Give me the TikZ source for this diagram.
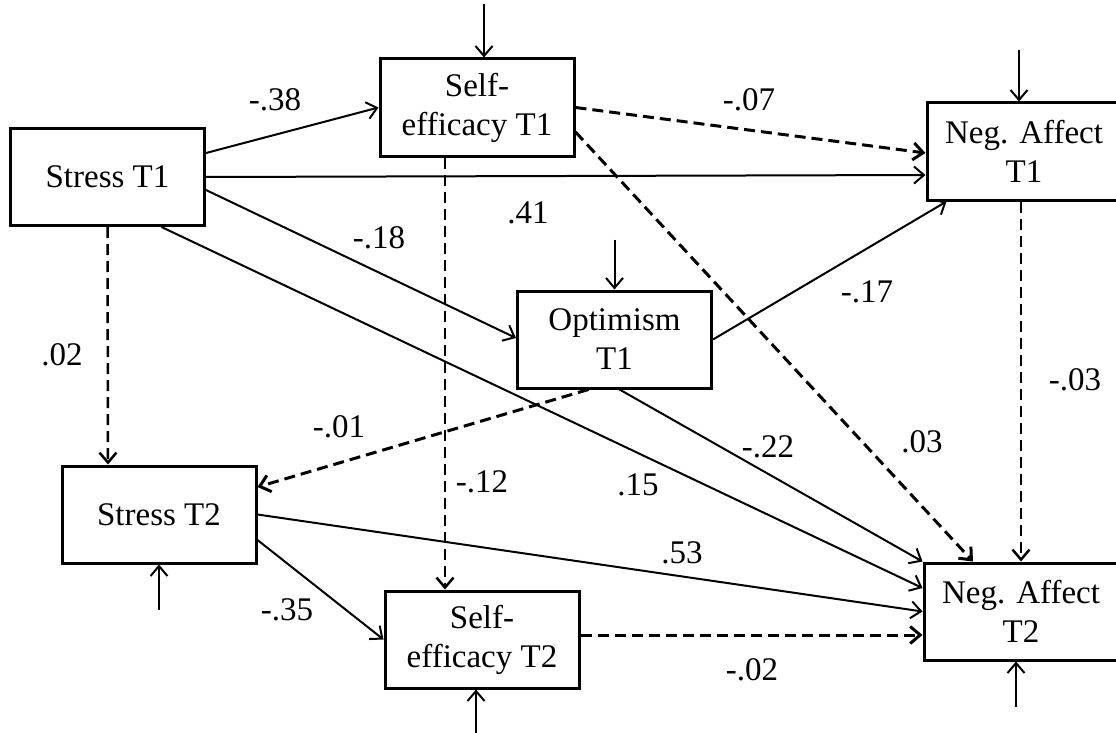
\documentclass[tikz,border=0pt]{standalone}
\usepackage{fontspec}
\setmainfont{Liberation Serif}
\usetikzlibrary{arrows.meta,calc}
\begin{document}
\begin{tikzpicture}[x=1pt,y=-1pt,
  vbox/.style={draw, line width=3pt, minimum width=194pt, minimum height=97pt, inner sep=0pt, align=center, font=\fontsize{33}{39}\selectfont},
  conn/.style={line width=2pt, -{Straight Barb[length=10pt,width=17pt]}},
  dconn/.style={conn, line width=3pt, dash pattern=on 11pt off 6pt},
  vdconn/.style={conn, line width=2.5pt, dash pattern=on 11pt off 6pt},
  lbl/.style={font=\fontsize{33}{39}\selectfont, inner sep=0pt}]
\useasboundingbox (0,0) rectangle (1116,733);
\fill[white] (0,0) rectangle (1116,733);
% nodes
\node[vbox] (s1)  at (107.5,177) {Stress T1};
\node[vbox] (se1) at (477,107.5) {Self-\\efficacy T1};
\node[vbox] (na1) at (1024,151.5) {Neg. Affect\\T1};
\node[vbox] (opt) at (614.5,339.5) {Optimism\\T1};
\node[vbox] (s2)  at (159,514.5) {Stress T2};
\node[vbox] (se2) at (482,639.5) {Self-\\efficacy T2};
\node[vbox] (na2) at (1021,611.5) {Neg. Affect\\T2};
% error terms
\coordinate (e1) at ([xshift=7pt,yshift=53pt]se1.north);
\coordinate (e2) at ([xshift=-5pt,yshift=51pt]na1.north);
\coordinate (e3) at ([yshift=50pt]opt.north);
\coordinate (e4) at ([yshift=-45pt]s2.south);
\coordinate (e5) at ([xshift=-6pt,yshift=-47pt]se2.south);
\coordinate (e6) at ([xshift=-5pt,yshift=-45pt]na2.south);
\draw[conn] (e1) -- ([xshift=7pt]se1.north);
\draw[conn] (e2) -- ([xshift=-5pt]na1.north);
\draw[conn] (e3) -- (opt.north);
\draw[conn] (e4) -- (s2.south);
\draw[conn] (e5) -- ([xshift=-6pt]se2.south);
\draw[conn] (e6) -- ([xshift=-5pt]na2.south);
% solid paths
\draw[conn] ([yshift=24pt]s1.east) -- (se1.west);
\draw[conn] (s1.east) -- ([yshift=-23.5pt]na1.west);
\draw[conn] ([yshift=-13pt]s1.east) -- ([yshift=1.5pt]opt.west);
\draw[conn] ([xshift=54pt]s1.south) -- ([yshift=23.5pt]na2.west);
\draw[conn] (opt.east) -- ([xshift=21pt]na1.south west);
\draw[conn] ([xshift=5pt]opt.south) -- (na2.north west);
\draw[conn] (s2.east) -- (na2.west);
\draw[conn] ([yshift=-25.5pt]s2.east) -- (se2.west);
% dashed paths
\draw[vdconn] (s1.south) -- ([xshift=-51pt]s2.north);
\draw[dconn] (se1.east) -- ([yshift=-1.5pt]na1.west);
\draw[dconn] ([yshift=-24.5pt]se1.east) -- ([xshift=-48pt]na2.north);
\draw[vdconn] ([xshift=-32pt]se1.south) -- ([xshift=-37pt]se2.north);
\draw[dconn] ([xshift=-26pt]opt.south) -- ([yshift=27.5pt]s2.east);
\draw[vdconn] ([xshift=-3pt]na1.south) -- (na2.north);
\draw[dconn] ([yshift=4.5pt]se2.east) -- ([yshift=-23.5pt]na2.west);
% labels
\node[lbl] (l1) at (275,100) {-.38};
\node[lbl] (l2) at (528,213) {.41};
\node[lbl] (l3) at (379,238) {-.18};
\node[lbl] (l4) at (638,485) {.15};
\node[lbl] (l5) at (62,355) {.02};
\node[lbl] (l6) at (749,100) {-.07};
\node[lbl] (l7) at (922,442) {.03};
\node[lbl] (l8) at (482,482) {-.12};
\node[lbl] (l9) at (867,292) {-.17};
\node[lbl] (l10) at (339,427) {-.01};
\node[lbl] (l11) at (768,447) {-.22};
\node[lbl] (l12) at (1075,380) {-.03};
\node[lbl] (l13) at (682,553) {.53};
\node[lbl] (l14) at (287,610) {-.35};
\node[lbl] (l15) at (752,670) {-.02};
\end{tikzpicture}
\end{document}
